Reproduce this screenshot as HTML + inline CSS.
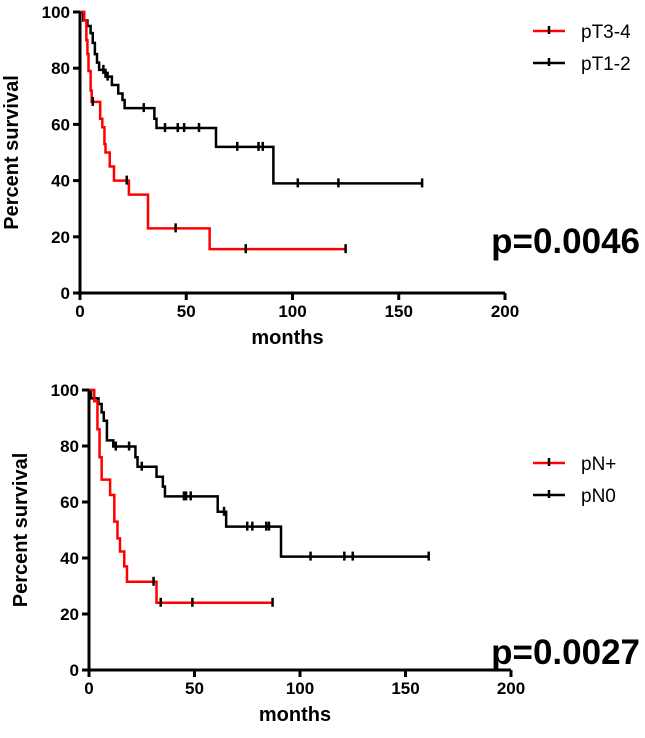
<!DOCTYPE html>
<html><head><meta charset="utf-8"><style>
body{margin:0;background:#fff;}
svg{display:block;font-family:"Liberation Sans",Arial,sans-serif;}
.t{font-weight:bold;font-size:17px;fill:#000;}
.ax{font-weight:bold;font-size:20px;fill:#000;}
.lg{font-size:19px;fill:#000;}
.pv{font-weight:bold;font-size:35px;fill:#000;}
</style></head><body>
<svg id="chart" width="645" height="738"></svg>
<script>
// Panel A (pT)
const aRedSteps=[[0,100],[2,97],[3,90],[3.5,85],[4,79],[5,72],[5.5,68],[9.5,62],[10.5,59],[11.5,53],[12,50],[14,45],[16,40],[23,35],[32,23],[61,15.6]];
const aRedEnd=125;
const aRedCens=[6,22,45,78,125];
const aBlackSteps=[[0,100],[1.5,97],[3.5,95],[5,92.5],[6,89],[7,85],[8,82],[9,79.4],[12,77],[15,74],[18,71],[20,68.7],[21,65.8],[35,62],[36,58.7],[64,52],[91,39]];
const aBlackEnd=161;
const aBlackCens=[11,13,30,40,46,49,56,74,84,86,102.5,121.6,161];
// Panel B (pN)
const bRedSteps=[[0,100],[2.5,96],[4,86],[5,76],[6,68],[10,62.5],[12,53],[13.5,47],[14.7,42.3],[16.7,37],[18,31.5],[32,24]];
const bRedEnd=87;
const bRedCens=[30.6,34,49,87];
const bBlackSteps=[[0,100],[1,97],[4.5,95],[6,92],[7,89],[8.5,82],[11.5,79.8],[22,76],[23,72.6],[32,69],[35,65.5],[36,62],[61,56.5],[65,51.2],[91,40.5]];
const bBlackEnd=161;
const bBlackCens=[12.7,19,25,45,46,48.2,64,75,77.4,84,85.3,105,121,125,161];
const xTicks=[0,50,100,150,200];
const yTicks=[0,20,40,60,80,100];

const svg=document.getElementById('chart');
const NS='http://www.w3.org/2000/svg';
function mk(tag,attrs,parent){const e=document.createElementNS(NS,tag);for(const k in attrs)e.setAttribute(k,attrs[k]);(parent||svg).appendChild(e);return e;}

function panel(id,P,series,legend,pval){
  const g=mk('g',{});
  
  
  const X=v=>P.x0+(v-0)/200*(P.x1-P.x0);
  const Y=v=>P.y0-v/100*(P.y0-P.y1);
  series.forEach(s=>{
    let d='M'+X(s.steps[0][0])+','+Y(s.steps[0][1]);
    for(let i=1;i<s.steps.length;i++){d+=' H'+X(s.steps[i][0])+' V'+Y(s.steps[i][1]);}
    d+=' H'+X(s.end);
    const p=mk('path',{d:d,fill:'none',stroke:s.color,'stroke-width':2.5},g);
    
    
    s.cens.forEach(c=>{
      let sv=s.steps[0][1];
      s.steps.forEach(st=>{if(st[0]<=c)sv=st[1];});
      const t=mk('line',{x1:X(c),x2:X(c),y1:Y(sv)-5,y2:Y(sv)+4,stroke:'#000','stroke-width':2.5},g);
      
      
    });
  });
  const ax=mk('path',{d:'M'+P.x0+','+P.y1+' V'+P.y0+' H'+P.x1,fill:'none',stroke:'#000','stroke-width':3},g);
  
  
  xTicks.forEach(v=>{
    mk('line',{x1:X(v),x2:X(v),y1:P.y0,y2:P.y0+7,stroke:'#000','stroke-width':3},g);
    const t=mk('text',{x:X(v),y:P.y0+24,'text-anchor':'middle',class:'t'},g);t.textContent=v;
    
    
  });
  yTicks.forEach(v=>{
    mk('line',{x1:P.x0-7,x2:P.x0,y1:Y(v),y2:Y(v),stroke:'#000','stroke-width':3},g);
    const t=mk('text',{x:P.x0-10,y:Y(v)+6,'text-anchor':'end',class:'t'},g);t.textContent=v;
    
    
  });
  const xl=mk('text',{x:(P.x0+P.x1)/2-5,y:P.y0+51,'text-anchor':'middle',class:'ax'},g);xl.textContent='months';
  
  
  const cy=(P.y0+P.y1)/2;
  const yl=mk('text',{x:0,y:0,'text-anchor':'middle',class:'ax',transform:'translate('+(P.x0-62)+','+cy+') rotate(-90)'},g);yl.textContent='Percent survival';
  
  
  legend.forEach((l,i)=>{
    const ly=P.ly+i*32;
    mk('line',{x1:533,x2:565,y1:ly,y2:ly,stroke:l.color,'stroke-width':2.5},g);
    mk('line',{x1:549,x2:549,y1:ly-5,y2:ly+3,stroke:'#000','stroke-width':2.5},g);
    const t=mk('text',{x:581,y:ly+7,class:'lg'},g);t.textContent=l.label;
    
    
  });
  const pv=mk('text',{x:640,y:P.py,'text-anchor':'end',class:'pv'},g);pv.textContent=pval;
  
  
}
panel('pt',{x0:80,x1:505,y0:293,y1:12,ly:31,py:253},
  [{name:'pt1-2',color:'#000',steps:aBlackSteps,end:aBlackEnd,cens:aBlackCens},
   {name:'pt3-4',color:'#f00',steps:aRedSteps,end:aRedEnd,cens:aRedCens}],
  [{label:'pT3-4',color:'#f00'},{label:'pT1-2',color:'#000'}],'p=0.0046');
panel('pn',{x0:89,x1:511,y0:670,y1:390,ly:463,py:664},
  [{name:'pn0',color:'#000',steps:bBlackSteps,end:bBlackEnd,cens:bBlackCens},
   {name:'pn-plus',color:'#f00',steps:bRedSteps,end:bRedEnd,cens:bRedCens}],
  [{label:'pN+',color:'#f00'},{label:'pN0',color:'#000'}],'p=0.0027');
</script>
</body></html>
